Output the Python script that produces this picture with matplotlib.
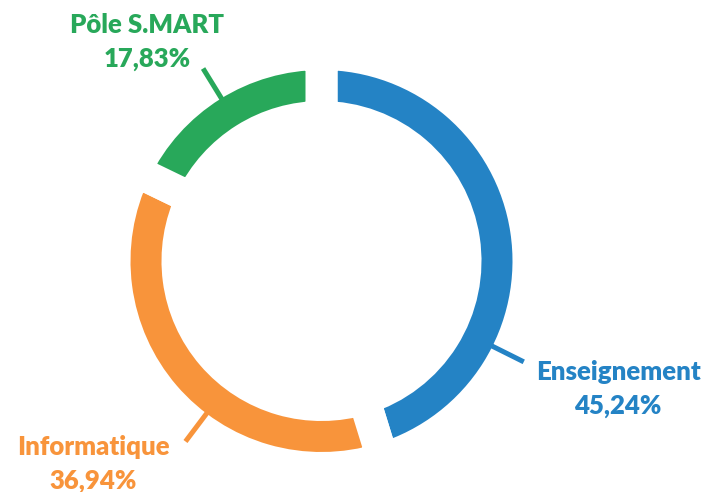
import numpy as np
import matplotlib.pyplot as plt

labels = ['Enseignement', 'Informatique', 'Pôle S.MART']
shares = [45.24, 36.94, 17.83]
colors = ['#2483c5', '#f8943b', '#28a85a']

# angle of each leader line and where the label sits (pixels, y from top)
label_angles = [-26.5, -127.0, 121.6]
label_pos = [(618, 380), (93, 455), (147, 33)]

W, H = 706, 492
cx, cy = 321.5, H - 261
r_out, ring, gap = 191, 31, 32

fig = plt.figure(figsize=(W / 100, H / 100), dpi=100)
ax = fig.add_axes([0, 0, 1, 1])

ax.pie(shares, colors=colors, startangle=90, counterclock=False,
       center=(cx, cy), radius=r_out + gap / 2,
       wedgeprops=dict(width=ring + gap, edgecolor='white',
                       linewidth=gap * 0.72, joinstyle='miter'))

for lab, val, col, ang, (tx, ty) in zip(labels, shares, colors, label_angles, label_pos):
    a = np.deg2rad(ang)
    r0, r1 = r_out - 2, 226
    ax.plot([cx + r0 * np.cos(a), cx + r1 * np.cos(a)],
            [cy + r0 * np.sin(a), cy + r1 * np.sin(a)],
            color=col, lw=3.6, solid_capstyle='butt')
    pct = f'{val:.2f}%'.replace('.', ',')
    ax.text(tx, H - ty, lab, color=col, fontsize=18.5, fontweight='heavy',
            family='Lato', ha='center', va='baseline')
    ax.text(tx, H - ty - 34, pct, color=col, fontsize=18.5, fontweight='heavy',
            family='Lato', ha='center', va='baseline')

ax.set_xlim(0, W)
ax.set_ylim(0, H)
ax.set_aspect('equal')
ax.axis('off')
fig.savefig('out.png', dpi=100)
